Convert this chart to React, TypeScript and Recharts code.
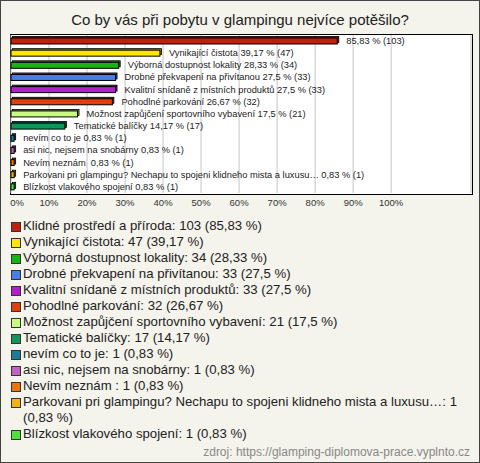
import React from 'react';
import { BarChart, Bar, XAxis, YAxis, CartesianGrid, Cell, LabelList } from 'recharts';

const categories = [
  'Klidné prostředí a příroda',
  'Vynikající čistota',
  'Výborná dostupnost lokality',
  'Drobné překvapení na přivítanou',
  'Kvalitní snídaně z místních produktů',
  'Pohodlné parkování',
  'Možnost zapůjčení sportovního vybavení',
  'Tematické balíčky',
  'nevím co to je',
  'asi nic, nejsem na snobárny',
  'Nevím neznám ',
  'Parkovani pri glampingu? Nechapu to spojeni klidneho mista a luxusu…',
  'Blízkost vlakového spojení',
];
const counts = [103, 47, 34, 33, 33, 32, 21, 17, 1, 1, 1, 1, 1];
const percents = [85.83, 39.17, 28.33, 27.5, 27.5, 26.67, 17.5, 14.17, 0.83, 0.83, 0.83, 0.83, 0.83];
const colors = [
  '#c0200c', '#ffe600', '#16b416', '#4a7de6', '#b41ecc', '#e0400e', '#c8fa82',
  '#14935a', '#1c7c98', '#c062c4', '#e8760e', '#f2b40e', '#52e03e',
];
const xTicks = [0, 10, 20, 30, 40, 50, 60, 70, 80, 90, 100];

const fmt = (v: number) => String(v).replace('.', ',');

const data = categories.map((name, i) => ({
  name,
  pct: percents[i],
  count: counts[i],
  color: colors[i],
}));

const darken = (hex: string, f: number) => {
  const n = parseInt(hex.slice(1), 16);
  const r = Math.round(((n >> 16) & 255) * f);
  const g = Math.round(((n >> 8) & 255) * f);
  const b = Math.round((n & 255) * f);
  return `rgb(${r},${g},${b})`;
};

const Bar3D = (props: any) => {
  const { x, y, width, height, fill } = props;
  const d = 1.5;
  return (
    <g>
      <rect x={x + d} y={y - d} width={width} height={height} fill={darken(fill, 0.6)} stroke="#000" strokeWidth={0.8} />
      <rect x={x} y={y} width={width} height={height} fill={fill} stroke="#000" strokeWidth={1} />
    </g>
  );
};

const BarLabel = (props: any) => {
  const { x, y, width, height, index } = props;
  const d = data[index];
  const text = `${d.pct > 80 ? '' : d.name + ' '}${fmt(d.pct)} % (${d.count})`;
  return (
    <text
      x={x + width + 9}
      y={y + height / 2}
      dominantBaseline="central"
      fontSize={9.3}
      fill="#222"
      style={{ whiteSpace: 'pre' }}
    >
      {text}
    </text>
  );
};

const XTick = (props: any) => {
  const { x, y, payload } = props;
  return (
    <text x={payload.value === 0 ? x + 6 : x} y={y + 5} textAnchor="middle" fontSize={9.5} fill="#333">
      {payload.value}%
    </text>
  );
};

export default function App() {
  return (
    <div
      style={{
        position: 'fixed',
        left: 0,
        top: 0,
        width: 480,
        height: 463,
        boxSizing: 'border-box',
        border: '1px solid #444',
        background: '#f4f3ec',
        fontFamily: '"Liberation Sans", Arial, sans-serif',
        color: '#222',
        overflow: 'hidden',
      }}
    >
      <div
        style={{
          position: 'absolute',
          top: 10,
          left: 0,
          width: 478,
          textAlign: 'center',
          fontSize: 15,
        }}
      >
        Co by vás při pobytu v glampingu nejvíce potěšilo?
      </div>
      <div
        style={{
          position: 'absolute',
          left: 9,
          top: 33,
          width: 461,
          height: 159,
          background: '#fff',
          border: '1.5px solid #000',
        }}
      />
      <div style={{ position: 'absolute', left: -1, top: -1 }}>
        <BarChart
          width={480}
          height={215}
          data={data}
          layout="vertical"
          margin={{ top: 35, right: 9, bottom: 0, left: 11 }}
        >
          <CartesianGrid horizontal={false} stroke="#c4c4c4" />
          <XAxis
            type="number"
            domain={[0, 121]}
            ticks={xTicks}
            axisLine={false}
            tickLine={false}
            height={22}
            tick={<XTick />}
            interval={0}
          />
          <YAxis type="category" dataKey="name" hide />
          <Bar dataKey="pct" barSize={6} shape={<Bar3D />} isAnimationActive={false}>
            {data.map((d, i) => (
              <Cell key={`c-${i}`} fill={d.color} />
            ))}
            <LabelList dataKey="pct" content={<BarLabel />} />
          </Bar>
        </BarChart>
      </div>
      <div style={{ position: 'absolute', left: 10, top: 217, width: 458, fontSize: 13.2, lineHeight: '16px' }}>
        {data.map((d, i) => (
          <div key={`l-${i}`} style={{ display: 'flex', alignItems: 'flex-start' }}>
            <span
              style={{
                flex: 'none',
                width: 8,
                height: 8,
                marginTop: 4,
                marginRight: 2,
                background: d.color,
                border: '1px solid #333',
              }}
            />
            <span>{`${d.name}: ${d.count} (${fmt(d.pct)} %)`}</span>
          </div>
        ))}
      </div>
      <div style={{ position: 'absolute', right: 9, top: 444, fontSize: 12, color: '#888' }}>
        zdroj: https://glamping-diplomova-prace.vyplnto.cz
      </div>
    </div>
  );
}
